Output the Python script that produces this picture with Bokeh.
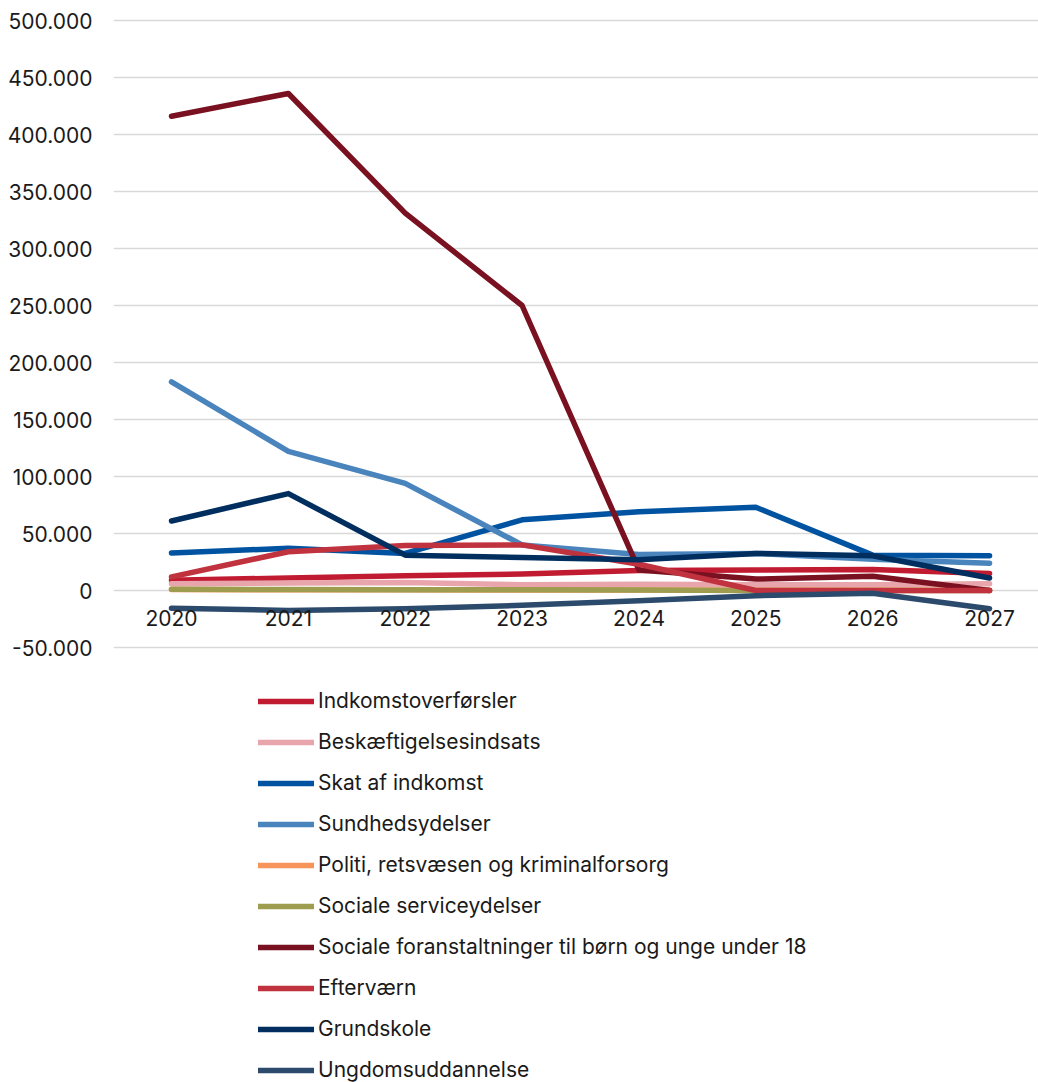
from bokeh.plotting import figure
from bokeh.models import Range1d, Legend, LegendItem, FixedTicker, ColumnDataSource
from bokeh.core.properties import value
from bokeh.embed import file_html
from bokeh.resources import INLINE

years = [2020, 2021, 2022, 2023, 2024, 2025, 2026, 2027]
year_labels = ["2020", "2021", "2022", "2023", "2024", "2025", "2026", "2027"]

indkomstoverforsler = [9000, 11000, 13000, 14500, 17500, 18000, 18500, 15000]
beskaeftigelsesindsats = [6000, 6500, 7000, 5000, 5500, 5000, 5000, 6000]
skat_af_indkomst = [33000, 37000, 32500, 62000, 69000, 73000, 31000, 30500]
sundhedsydelser = [183000, 122000, 94000, 40000, 31500, 32500, 27500, 24000]
politi = [800, 700, 600, 500, 400, 300, 300, 300]
sociale_serviceydelser = [1000, 900, 700, 600, 400, 0, 0, 0]
sociale_foranstaltninger = [416000, 436000, 331000, 250000, 18000, 10000, 12500, 0]
eftervaern = [12000, 34000, 39500, 40000, 23000, 0, 0, 0]
grundskole = [61000, 85000, 31000, 29000, 27000, 32500, 30500, 11000]
ungdomsuddannelse = [-15500, -17500, -16000, -13000, -9000, -4500, -2500, -16000]

series_names = [
    "Indkomstoverførsler", "Beskæftigelsesindsats", "Skat af indkomst",
    "Sundhedsydelser", "Politi, retsvæsen og kriminalforsorg",
    "Sociale serviceydelser", "Sociale foranstaltninger til børn og unge under 18",
    "Efterværn", "Grundskole", "Ungdomsuddannelse",
]
series_values = [
    indkomstoverforsler, beskaeftigelsesindsats, skat_af_indkomst, sundhedsydelser,
    politi, sociale_serviceydelser, sociale_foranstaltninger, eftervaern,
    grundskole, ungdomsuddannelse,
]
colors = ["#C01B30", "#E8A5AC", "#0053A0", "#4A84BC", "#F79459",
          "#9E9C4E", "#7A1120", "#C1323F", "#002F5F", "#2C4A6B"]

y_ticks = [-50000, 0, 50000, 100000, 150000, 200000, 250000, 300000, 350000, 400000, 450000, 500000]
y_tick_labels = ["-50.000", "0", "50.000", "100.000", "150.000", "200.000", "250.000",
                 "300.000", "350.000", "400.000", "450.000", "500.000"]

FONT = "Inter"
TXT = "#1a1a1a"
FS = "21px"

# frame spans down to the bottom of the page; the legend sits in the empty lower part
p = figure(width=1038, height=1082, output_backend="svg", toolbar_location=None,
           x_axis_location=None,
           x_range=Range1d(2019.5037, 2027.419), y_range=Range1d(-431579, 508772),
           min_border_left=113, min_border_right=0, min_border_top=10, min_border_bottom=0)
p.outline_line_color = None
p.xgrid.grid_line_color = None
p.ygrid.grid_line_color = "#D9D9D9"
p.ygrid.grid_line_width = 1.5
p.yaxis.ticker = FixedTicker(ticks=y_ticks)
p.yaxis.major_label_overrides = {t: l for t, l in zip(y_ticks, y_tick_labels)}
p.yaxis.axis_line_color = None
p.yaxis.major_tick_line_color = None
p.yaxis.minor_tick_line_color = None
p.yaxis.major_tick_out = 0
p.yaxis.major_tick_in = 0
p.yaxis.major_label_standoff = 21
p.yaxis.major_label_text_font = FONT
p.yaxis.major_label_text_font_size = FS
p.yaxis.major_label_text_color = TXT

items = []
for name, vals, col in zip(series_names, series_values, colors):
    r = p.line(years, vals, line_color=col, line_width=5.5, line_cap="round", line_join="round")
    items.append(LegendItem(label=name, renderers=[r]))

# category labels along the zero line
src = ColumnDataSource(dict(x=years, y=[0] * len(years), t=year_labels))
p.text(x="x", y="y", text="t", source=src, text_font=value(FONT), text_font_size=FS,
       text_color=TXT, text_align="center", text_baseline="middle", y_offset=27)

legend = Legend(items=items, location=(145, 0), orientation="vertical",
                glyph_width=56, glyph_height=20, label_height=20, label_standoff=4,
                spacing=16, padding=0, margin=0,
                border_line_color=None, background_fill_alpha=0,
                label_text_font=FONT, label_text_font_size=FS, label_text_color=TXT)
p.add_layout(legend, "center")

open("out.html", "w").write(file_html(p, INLINE))
